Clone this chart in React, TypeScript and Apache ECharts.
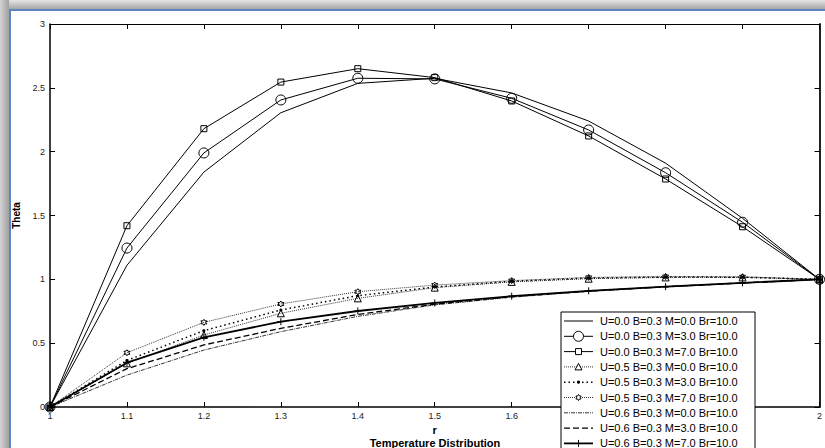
import React, { useEffect, useRef } from 'react';
import * as echarts from 'echarts';

const rValues = [1, 1.1, 1.2, 1.3, 1.4, 1.5, 1.6, 1.7, 1.8, 1.9, 2];

const thetaU00M0 = [0, 1.11, 1.84, 2.305, 2.535, 2.575, 2.46, 2.24, 1.91, 1.478, 1.0];
const thetaU00M3 = [0, 1.245, 1.99, 2.405, 2.575, 2.57, 2.418, 2.17, 1.835, 1.447, 1.0];
const thetaU00M7 = [0, 1.42, 2.18, 2.545, 2.65, 2.58, 2.397, 2.123, 1.786, 1.412, 1.0];
const thetaU05M0 = [0, 0.342, 0.564, 0.734, 0.851, 0.935, 0.98, 1.005, 1.015, 1.015, 1.0];
const thetaU05M3 = [0, 0.365, 0.598, 0.76, 0.872, 0.94, 0.985, 1.01, 1.018, 1.017, 1.0];
const thetaU05M7 = [0, 0.425, 0.663, 0.807, 0.903, 0.955, 0.99, 1.015, 1.022, 1.02, 1.0];
const thetaU06M0 = [0, 0.25, 0.446, 0.59, 0.71, 0.8, 0.86, 0.905, 0.94, 0.97, 1.0];
const thetaU06M3 = [0, 0.3, 0.486, 0.616, 0.725, 0.805, 0.865, 0.908, 0.942, 0.972, 1.0];
const thetaU06M7 = [0, 0.347, 0.546, 0.668, 0.752, 0.815, 0.868, 0.91, 0.943, 0.972, 1.0];

const seriesNames = [
  'U=0.0 B=0.3 M=0.0 Br=10.0',
  'U=0.0 B=0.3 M=3.0 Br=10.0',
  'U=0.0 B=0.3 M=7.0 Br=10.0',
  'U=0.5 B=0.3 M=0.0 Br=10.0',
  'U=0.5 B=0.3 M=3.0 Br=10.0',
  'U=0.5 B=0.3 M=7.0 Br=10.0',
  'U=0.6 B=0.3 M=0.0 Br=10.0',
  'U=0.6 B=0.3 M=3.0 Br=10.0',
  'U=0.6 B=0.3 M=7.0 Br=10.0',
];

// x tick labels hidden behind the legend box in the reference
const hiddenXTicks = [1.7, 1.8, 1.9];

const xTitle = 'r';
const yTitle = 'Theta';
const chartTitle = 'Temperature Distribution';

const FONT = 'Arial, "Liberation Sans", Helvetica, sans-serif';

// marker kinds and line styles (style only, no data)
type Kind = 'none' | 'circle' | 'square' | 'triangle' | 'dot' | 'hexagram' | 'plus';
const styleDefs: { kind: Kind; size: number; width: number; dash: number[] | null }[] = [
  { kind: 'none', size: 0, width: 1, dash: null },
  { kind: 'circle', size: 10, width: 1, dash: null },
  { kind: 'square', size: 6, width: 1, dash: null },
  { kind: 'triangle', size: 7, width: 0.8, dash: [1, 1] },
  { kind: 'dot', size: 3, width: 1.5, dash: [1.5, 3] },
  { kind: 'hexagram', size: 6, width: 0.8, dash: [1, 1] },
  { kind: 'none', size: 0, width: 0.8, dash: [4, 1, 1, 1] },
  { kind: 'none', size: 0, width: 1.3, dash: [6, 3] },
  { kind: 'plus', size: 7, width: 1.8, dash: null },
];

const seriesValues = [
  thetaU00M0, thetaU00M3, thetaU00M7,
  thetaU05M0, thetaU05M3, thetaU05M7,
  thetaU06M0, thetaU06M3, thetaU06M7,
];

const HEXAGRAM =
  'path://M10,0L12.89,5L18.66,5L15.77,10L18.66,15L12.89,15L10,20L7.11,15L1.34,15L4.23,10L1.34,5L7.11,5Z';
const PLUS = 'path://M5,0L5,10M0,5L10,5';

function echartsSymbol(kind: Kind): string {
  switch (kind) {
    case 'circle': return 'circle';
    case 'square': return 'rect';
    case 'triangle': return 'triangle';
    case 'dot': return 'circle';
    case 'hexagram': return HEXAGRAM;
    case 'plus': return PLUS;
    default: return 'none';
  }
}

function pairs(vals: number[]) {
  return rValues.map((r, i) => [r, vals[i]]);
}

function legendMarker(kind: Kind, cx: number, cy: number, z: number): any[] {
  const stroke = { stroke: '#000', lineWidth: 1, fill: 'none' };
  switch (kind) {
    case 'circle':
      return [{ type: 'circle', shape: { cx, cy, r: 5 }, style: { ...stroke, fill: '#fff' }, z }];
    case 'square':
      return [{ type: 'rect', shape: { x: cx - 3, y: cy - 3, width: 6, height: 6 }, style: { ...stroke, fill: '#fff' }, z }];
    case 'triangle':
      return [{ type: 'polygon', shape: { points: [[cx, cy - 3.5], [cx + 3.5, cy + 3], [cx - 3.5, cy + 3]] }, style: { ...stroke, fill: '#fff' }, z }];
    case 'dot':
      return [{ type: 'circle', shape: { cx, cy, r: 1.6 }, style: { fill: '#000' }, z }];
    case 'hexagram': {
      const pts: number[][] = [];
      for (let k = 0; k < 12; k++) {
        const a = (-90 + k * 30) * Math.PI / 180;
        const rr = k % 2 === 0 ? 3 : 1.8;
        pts.push([cx + rr * Math.cos(a), cy + rr * Math.sin(a)]);
      }
      return [{ type: 'polygon', shape: { points: pts }, style: { ...stroke, fill: '#fff' }, z }];
    }
    case 'plus':
      return [
        { type: 'line', shape: { x1: cx, y1: cy - 3.5, x2: cx, y2: cy + 3.5 }, style: { stroke: '#000', lineWidth: 1 }, z },
      ];
    default:
      return [];
  }
}

export default function App() {
  const ref = useRef<HTMLDivElement>(null);

  useEffect(() => {
    const chart = echarts.init(ref.current!, null, { renderer: 'svg' });

    const series = styleDefs.map((d, i) => {
      const isDot = d.kind === 'dot';
      return {
        name: seriesNames[i],
        type: 'line',
        data: pairs(seriesValues[i]),
        symbol: echartsSymbol(d.kind),
        symbolSize: d.size,
        showSymbol: d.kind !== 'none',
        lineStyle: { color: '#000', width: d.width, type: d.dash ? d.dash : 'solid' },
        itemStyle: isDot
          ? { color: '#000', borderColor: '#000', borderWidth: 0 }
          : { color: 'rgba(0,0,0,0)', borderColor: '#000', borderWidth: 1 },
        emphasis: { disabled: true },
        silent: true,
        z: 3,
      };
    });

    // custom legend drawn as graphics
    const LX = 561, LY = 312, LW = 194, LH = 150, STEP = 15.3, FIRST = 321;
    const legendEls: any[] = [
      { type: 'rect', shape: { x: LX, y: LY, width: LW, height: LH }, style: { fill: '#fff', stroke: '#000', lineWidth: 1 }, z: 100 },
    ];
    styleDefs.forEach((d, i) => {
      const cy = FIRST + i * STEP;
      legendEls.push({
        type: 'line',
        shape: { x1: LX + 3, y1: cy, x2: LX + 32, y2: cy },
        style: { stroke: '#000', lineWidth: d.width, lineDash: d.dash || undefined },
        z: 101,
      });
      legendEls.push(...legendMarker(d.kind, LX + 17.5, cy, 102));
      legendEls.push({
        type: 'text',
        x: LX + 39,
        y: cy,
        style: {
          text: seriesNames[i],
          font: `11px ${FONT}`,
          fill: '#000',
          textAlign: 'left',
          textVerticalAlign: 'middle',
        },
        z: 102,
      });
    });

    const tickFmt = (v: number) => String(+v.toFixed(1));
    const xTickFmt = (v: number) =>
      hiddenXTicks.some((h) => Math.abs(h - v) < 1e-6) ? '' : String(+v.toFixed(1));

    const option: any = {
      animation: false,
      backgroundColor: '#fff',
      textStyle: { fontFamily: FONT },
      grid: { left: 50, right: 4, top: 24, bottom: 41, show: false },
      graphic: [
        {
          type: 'rect',
          shape: { x: 0, y: 0, width: 825, height: 9 },
          style: {
            fill: new echarts.graphic.LinearGradient(0, 0, 0, 1, [
              { offset: 0, color: '#e6e6e6' },
              { offset: 1, color: '#a6a6a6' },
            ]),
          },
          silent: true,
        },
        {
          type: 'rect',
          shape: { x: 0, y: 0, width: 9, height: 448 },
          style: {
            fill: new echarts.graphic.LinearGradient(0, 0, 1, 0, [
              { offset: 0, color: '#d4d4d4' },
              { offset: 1, color: '#a0a0a0' },
            ]),
          },
          silent: true,
        },
        { type: 'rect', shape: { x: 9, y: 9, width: 816, height: 2 }, style: { fill: '#5b86c2' }, silent: true },
        { type: 'rect', shape: { x: 9, y: 9, width: 2, height: 439 }, style: { fill: '#5b86c2' }, silent: true },
        {
          type: 'text',
          x: 435,
          y: 443,
          style: {
            text: chartTitle,
            font: `bold 11px ${FONT}`,
            fill: '#000',
            textAlign: 'center',
            textVerticalAlign: 'middle',
          },
          silent: true,
        },
        ...legendEls,
      ],
      xAxis: [
        {
          type: 'value',
          min: 1,
          max: 2,
          interval: 0.1,
          position: 'bottom',
          name: xTitle,
          nameLocation: 'middle',
          nameGap: 16,
          nameTextStyle: { fontWeight: 'bold', fontSize: 11, color: '#000', fontFamily: FONT },
          axisLine: { show: true, onZero: false, lineStyle: { color: '#000', width: 1.5 } },
          axisTick: { show: true, inside: true, length: 5, lineStyle: { color: '#000' } },
          axisLabel: { fontSize: 9, color: '#222', margin: 4, formatter: xTickFmt, fontFamily: FONT },
          splitLine: { show: false },
        },
        {
          type: 'value',
          min: 1,
          max: 2,
          interval: 0.1,
          position: 'top',
          axisLine: { show: true, onZero: false, lineStyle: { color: '#000', width: 1 } },
          axisTick: { show: true, inside: true, length: 5, lineStyle: { color: '#000' } },
          axisLabel: { show: false },
          splitLine: { show: false },
        },
      ],
      yAxis: [
        {
          type: 'value',
          min: 0,
          max: 3,
          interval: 0.5,
          position: 'left',
          name: yTitle,
          nameLocation: 'middle',
          nameGap: 23,
          nameTextStyle: { fontWeight: 'bold', fontSize: 10, color: '#000', fontFamily: FONT },
          axisLine: { show: true, onZero: false, lineStyle: { color: '#000', width: 1.5 } },
          axisTick: { show: true, inside: true, length: 5, lineStyle: { color: '#000' } },
          axisLabel: { fontSize: 9, color: '#222', margin: 5, formatter: tickFmt, fontFamily: FONT },
          splitLine: { show: false },
        },
        {
          type: 'value',
          min: 0,
          max: 3,
          interval: 0.5,
          position: 'right',
          axisLine: { show: true, onZero: false, lineStyle: { color: '#222', width: 2 } },
          axisTick: { show: true, inside: true, length: 5, lineStyle: { color: '#000' } },
          axisLabel: { show: false },
          splitLine: { show: false },
        },
      ],
      series,
    };

    chart.setOption(option);
    return () => chart.dispose();
  }, []);

  return (
    <div
      ref={ref}
      style={{ position: 'fixed', left: 0, top: 0, width: 825, height: 448, background: '#fff' }}
    />
  );
}
